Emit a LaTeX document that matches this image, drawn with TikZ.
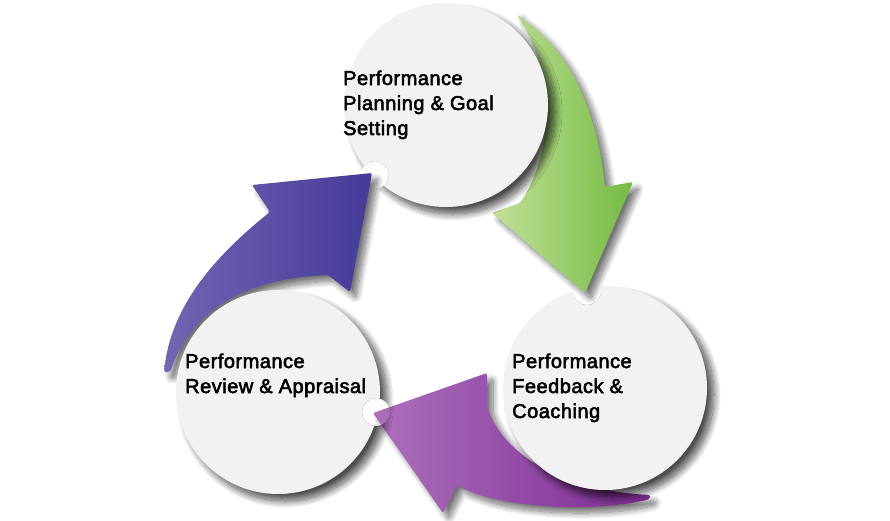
\documentclass[tikz,border=0pt]{standalone}
\usepackage{fontspec}
\setmainfont{Liberation Sans}[LetterSpace=2.5, FakeBold=2.6]
\usetikzlibrary{shadows.blur}
\definecolor{discgray}{RGB}{242,242,242}
\definecolor{greenlight}{RGB}{194,224,152}
\definecolor{greendark}{RGB}{116,188,66}
\definecolor{violetlight}{RGB}{112,102,178}
\definecolor{violetdark}{RGB}{70,58,154}
\definecolor{plumlight}{RGB}{172,112,188}
\definecolor{plumdark}{RGB}{124,42,146}
\tikzset{
  disc/.style={circle, minimum size=204, inner sep=0, draw=none, fill=discgray,
    blur shadow={shadow xshift=7pt, shadow yshift=-7pt, shadow blur radius=7pt,
    shadow blur steps=14, shadow opacity=70}},
  sweep/.style={draw=none, rounded corners=2pt,
    blur shadow={shadow xshift=6pt, shadow yshift=-6pt, shadow blur radius=6pt,
    shadow blur steps=12, shadow opacity=55}},
  txt/.style={anchor=base west, align=left, inner sep=0,
    font=\fontsize{20}{25}\selectfont}
}

\begin{document}
\begin{tikzpicture}[x=1pt, y=-1pt]
\useasboundingbox (0,0) rectangle (890,520);

% arrows
\path[sweep, left color=greenlight, right color=greendark]
  (517,15) .. controls (570,50) and (597,110) .. (605,187) -- (633,182)
  -- (585,293) -- (492,213) -- (520,203) .. controls (555,150) and (555,70) .. cycle;
\path[sweep, left color=violetlight, right color=violetdark]
  (164,372) .. controls (170,310) and (210,260) .. (270,212) -- (252,185)
  -- (372,173) -- (350,292) -- (328,275) .. controls (260,278) and (195,300) .. (170,372) -- cycle;
\path[sweep, left color=plumlight, right color=plumdark]
  (650,495) .. controls (590,492) and (510,470) .. (487,407) -- (487,373)
  -- (373,413) -- (443,513) -- (457,485) .. controls (500,510) and (600,512) .. (650,499) -- cycle;

% circles, each with a bite where an arrow ends
\begin{scope}[even odd rule]
  \clip (0,0) rectangle (890,520) (375,175) circle (14);
  \node[disc] (plan) at (446,105) {};
\end{scope}
\begin{scope}[even odd rule]
  \clip (0,0) rectangle (890,520) (587,291) circle (14);
  \node[disc] (coach) at (605,388) {};
\end{scope}
\begin{scope}[even odd rule]
  \clip (0,0) rectangle (890,520) (376,412) circle (14);
  \node[disc] (review) at (278,392) {};
\end{scope}

\node[txt] (plantxt) at (343,135) {Performance\\Planning \& Goal\\Setting};
\node[txt] (coachtxt) at (512,418) {Performance\\Feedback \&\\Coaching};
\node[txt] (reviewtxt) at (185,393) {Performance\\Review \& Appraisal};

\end{tikzpicture}
\end{document}
